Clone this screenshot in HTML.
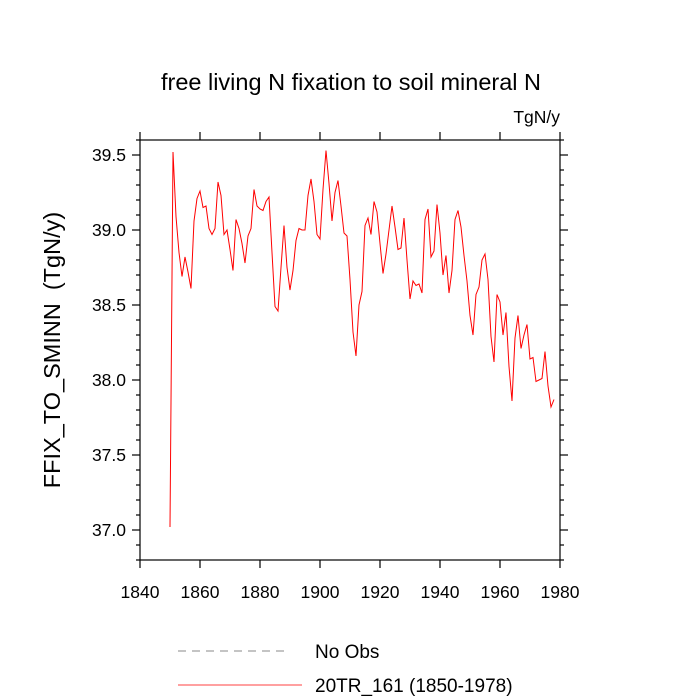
<!DOCTYPE html>
<html><head><meta charset="utf-8"><style>
body{margin:0;background:#fff;}
svg{display:block;font-family:"Liberation Sans",sans-serif;}
</style></head><body>
<svg id="chart" width="700" height="700" viewBox="0 0 700 700">
<text x="351" y="90" text-anchor="middle" font-size="23.5">free living N fixation to soil mineral N</text>
<text x="560" y="123" text-anchor="end" font-size="17.5">TgN/y</text>
<text transform="translate(60,350) rotate(-90)" text-anchor="middle" font-size="23.5" xml:space="preserve">FFIX_TO_SMINN  (TgN/y)</text>
<g id="axes"></g>
<polyline id="series" fill="none" stroke="#ff0000" stroke-width="1"/>
<line x1="178" y1="651" x2="290" y2="651" stroke="#888" stroke-dasharray="8,6"/>
<text x="315" y="658" font-size="19">No Obs</text>
<line x1="178" y1="685" x2="302" y2="685" stroke="#ff0000" stroke-width="0.8"/>
<text x="315" y="692" font-size="19">20TR_161 (1850-1978)</text>
</svg>
<script>
const startYear = 1850;
const values = [37.02,39.52,39.09,38.85,38.69,38.82,38.72,38.61,39.06,39.21,
39.26,39.15,39.16,39.01,38.97,39.01,39.32,39.23,38.97,39.00,
38.87,38.73,39.07,39.01,38.91,38.78,38.96,39.01,39.27,39.16,
39.14,39.13,39.19,39.22,38.85,38.49,38.46,38.75,39.03,38.75,
38.60,38.73,38.93,39.01,39.00,39.00,39.23,39.34,39.19,38.97,
38.94,39.27,39.53,39.31,39.06,39.25,39.33,39.16,38.98,38.96,
38.67,38.32,38.16,38.50,38.59,39.03,39.08,38.97,39.19,39.12,
38.91,38.71,38.84,39.00,39.16,39.02,38.87,38.88,39.08,38.80,
38.54,38.66,38.63,38.64,38.58,39.07,39.14,38.82,38.86,39.17,
38.98,38.70,38.83,38.58,38.73,39.07,39.13,39.02,38.83,38.66,
38.43,38.30,38.57,38.62,38.80,38.84,38.67,38.29,38.12,38.57,
38.52,38.30,38.45,38.09,37.86,38.28,38.43,38.21,38.30,38.37,
38.14,38.15,37.99,38.00,38.01,38.19,37.96,37.82,37.87];
const xTicks = [1840,1860,1880,1900,1920,1940,1960,1980];
const yTicks = [37.0,37.5,38.0,38.5,39.0,39.5];
const xMin=1840,xMax=1980,yMin=36.8,yMax=39.6;
const L=140,R=560,T=140,B=560;
function sx(v){return L+(v-xMin)/(xMax-xMin)*(R-L);}
function sy(v){return B-(v-yMin)/(yMax-yMin)*(B-T);}
const NS="http://www.w3.org/2000/svg";
const ax=document.getElementById('axes');
function ln(x1,y1,x2,y2,w,name){const e=document.createElementNS(NS,'line');
e.setAttribute('x1',x1);e.setAttribute('y1',y1);e.setAttribute('x2',x2);e.setAttribute('y2',y2);
e.setAttribute('stroke','#000');e.setAttribute('stroke-width',w);


ax.appendChild(e);}
function tx(x,y,s,anchor,name){const e=document.createElementNS(NS,'text');
e.setAttribute('x',x);e.setAttribute('y',y);e.setAttribute('text-anchor',anchor);e.setAttribute('font-size','17.5');e.textContent=s;


ax.appendChild(e);}
const box=document.createElementNS(NS,'rect');
box.setAttribute('x',L);box.setAttribute('y',T);box.setAttribute('width',R-L);box.setAttribute('height',B-T);
box.setAttribute('fill','none');box.setAttribute('stroke','#000');box.setAttribute('stroke-width','1.2');


ax.appendChild(box);
xTicks.forEach(v=>{const x=sx(v);ln(x,B,x,B+8,1.2,'x-tick');ln(x,T,x,T-8,1.2,'x-tick-top');tx(x,B+38,String(v),'middle','x-tick-label');});
for(let i=0;i<=28;i++){const v=yMin+i*0.1;const y=sy(v);
 const major=yTicks.some(t=>Math.abs(t-v)<1e-6);const len=major?8:4;
 ln(L,y,L-len,y,1.2,'y-tick');ln(R,y,R+len,y,1.2,'y-tick-right');}
yTicks.forEach(v=>tx(L-14,sy(v)+6,v.toFixed(1),'end','y-tick-label'));
document.getElementById('series').setAttribute('points',values.map((v,i)=>sx(startYear+i)+','+sy(v)).join(' '));
</script>
</body></html>
